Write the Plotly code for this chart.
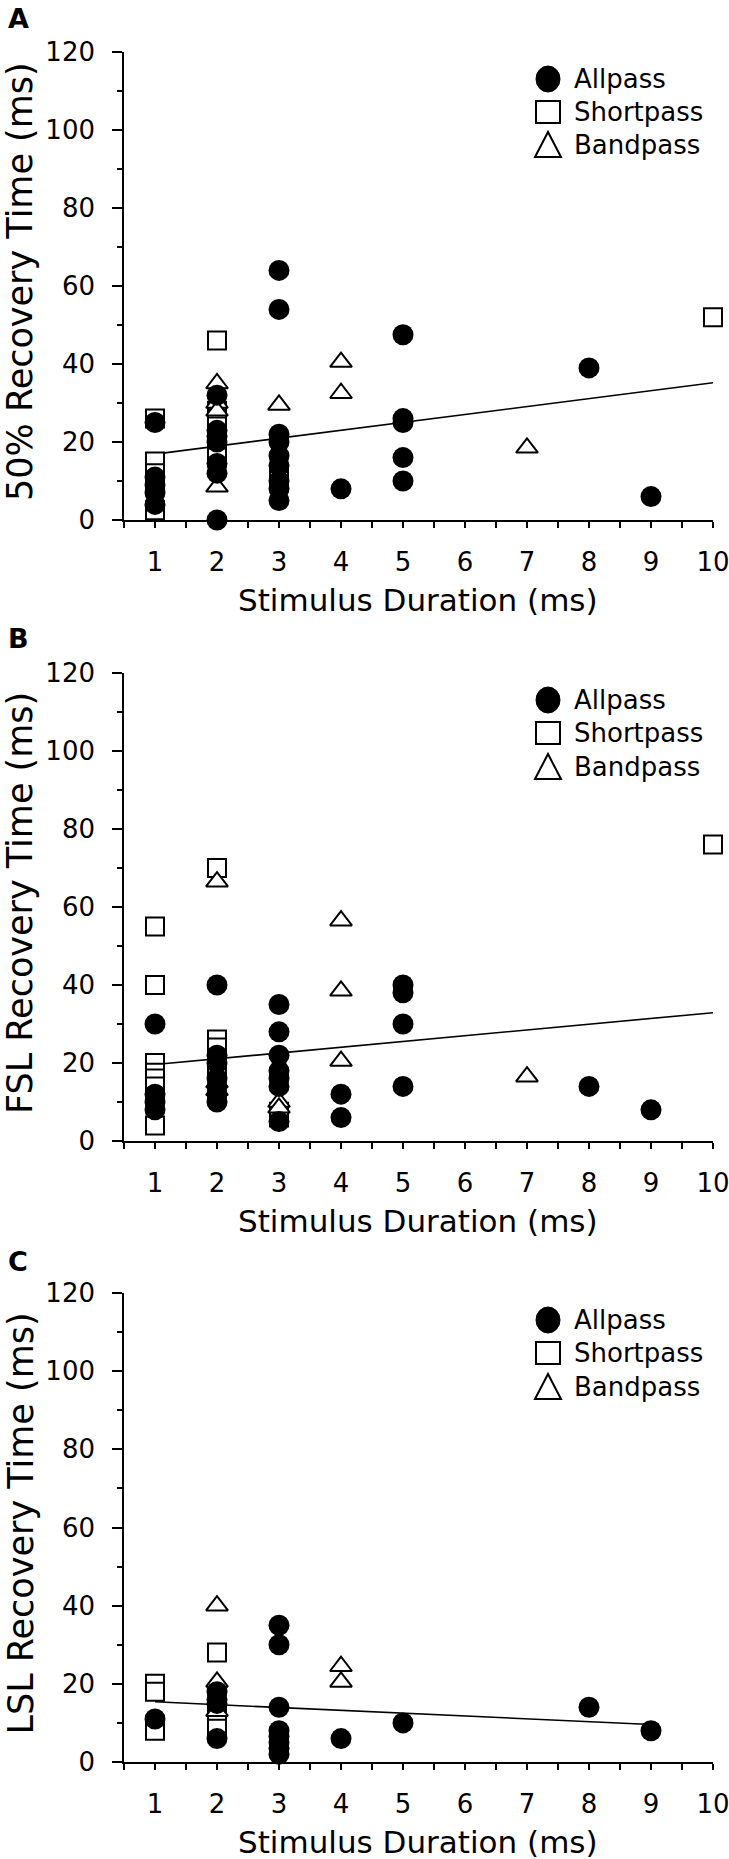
import plotly.graph_objects as go

# ---------------- data ----------------
# Panel A: 50% Recovery Time
a_all_dur = [1, 1, 1, 1, 1, 2, 2, 2, 2, 2, 2, 2, 3, 3, 3, 3, 3, 3, 3, 3, 3, 4, 5, 5, 5, 5, 5, 8, 9]
a_all_ms = [25, 11, 9, 7, 4, 32, 23, 21.5, 20, 14.5, 12, 0, 64, 54, 22, 20, 16.5, 14, 10, 8, 5, 8, 47.5, 26, 25, 16, 10, 39, 6]
a_short_dur = [1, 1, 1, 1, 1, 2, 2, 2, 2, 2, 2, 3, 3, 10]
a_short_ms = [26, 15, 12, 10, 2.5, 46, 28, 26, 24, 18, 16, 12, 10, 52]
a_band_dur = [2, 2, 2, 2, 3, 4, 4, 7]
a_band_ms = [35, 30, 28, 8.5, 29.5, 40.5, 32.5, 18.5]
a_fit_dur = [1, 10]
a_fit_ms = [16.9, 35.2]

# Panel B: FSL Recovery Time
b_all_dur = [1, 1, 1, 1, 2, 2, 2, 2, 2, 2, 2, 3, 3, 3, 3, 3, 3, 3, 4, 4, 5, 5, 5, 5, 8, 9]
b_all_ms = [30, 12, 10, 8, 40, 22, 20, 16, 14, 12, 10, 35, 28, 22, 18, 16, 14, 5, 12, 6, 40, 38, 30, 14, 14, 8]
b_short_dur = [1, 1, 1, 1, 1, 1, 1, 2, 2, 2, 2, 2, 3, 3, 10]
b_short_ms = [55, 40, 20, 17.5, 16, 14, 4, 70, 26, 24, 21, 18, 7.5, 6, 76]
b_band_dur = [2, 2, 2, 3, 3, 4, 4, 4, 7]
b_band_ms = [66.5, 15, 13, 10, 8.5, 56.5, 38.5, 20.5, 16.5]
b_fit_dur = [1, 10]
b_fit_ms = [19.6, 32.9]

# Panel C: LSL Recovery Time
c_all_dur = [1, 2, 2, 2, 2, 3, 3, 3, 3, 3, 3, 3, 3, 4, 5, 8, 9]
c_all_ms = [11, 18, 16, 15, 6, 35, 30, 14, 8, 6.5, 5, 3.5, 2, 6, 10, 14, 8]
c_short_dur = [1, 1, 1, 1, 2, 2, 2, 2]
c_short_ms = [20, 18, 9.5, 8, 28, 14, 11, 8.5]
c_band_dur = [2, 2, 2, 4, 4]
c_band_ms = [40, 20.5, 13, 24.5, 20.5]
c_fit_dur = [1, 9]
c_fit_ms = [15.4, 9.6]

panel_letters = ["A", "B", "C"]
y_titles = ["50% Recovery Time (ms)", "FSL Recovery Time (ms)", "LSL Recovery Time (ms)"]
x_title = "Stimulus Duration (ms)"
legend_names = ["Allpass", "Shortpass", "Bandpass"]
x_ticks = [1, 2, 3, 4, 5, 6, 7, 8, 9, 10]
y_ticks = [0, 20, 40, 60, 80, 100, 120]

panels = [
    (a_all_dur, a_all_ms, a_short_dur, a_short_ms, a_band_dur, a_band_ms, a_fit_dur, a_fit_ms),
    (b_all_dur, b_all_ms, b_short_dur, b_short_ms, b_band_dur, b_band_ms, b_fit_dur, b_fit_ms),
    (c_all_dur, c_all_ms, c_short_dur, c_short_ms, c_band_dur, c_band_ms, c_fit_dur, c_fit_ms),
]

# ---------------- layout geometry (pixels) ----------------
W, H = 729, 1859
x_left, x_right = 124, 713
panel_px = [(52, 520), (673, 1141), (1293, 1762)]  # (top, bottom) of plotting area
legend_rows = [(79, 112, 145), (700, 733, 767), (1320, 1353, 1387)]
letter_y = [18, 638, 1261]

FONT = "DejaVu Sans, Verdana, sans-serif"


def px(xp):
    return xp / W


def py(yp):
    return 1 - yp / H


fig = go.Figure()
shapes = []
annotations = []

for i, (ad, am, sd, sm, bd, bm, fd, fm) in enumerate(panels):
    n = "" if i == 0 else str(i + 1)
    xa, ya = "x" + n, "y" + n
    top, bot = panel_px[i]
    # fit line
    fig.add_trace(go.Scatter(x=fd, y=fm, mode="lines", line=dict(color="black", width=1.6),
                             xaxis=xa, yaxis=ya, showlegend=False, hoverinfo="skip"))
    fig.add_trace(go.Scatter(x=sd, y=sm, mode="markers", name="Shortpass", xaxis=xa, yaxis=ya,
                             showlegend=False, cliponaxis=False,
                             marker=dict(symbol="square", size=18, color="white",
                                         line=dict(color="black", width=2))))
    fig.add_trace(go.Scatter(x=bd, y=bm, mode="markers", name="Bandpass", xaxis=xa, yaxis=ya,
                             showlegend=False, cliponaxis=False,
                             marker=dict(symbol="triangle-up", size=19, color="white",
                                         line=dict(color="black", width=2))))
    fig.add_trace(go.Scatter(x=ad, y=am, mode="markers", name="Allpass", xaxis=xa, yaxis=ya,
                             showlegend=False, cliponaxis=False,
                             marker=dict(symbol="circle", size=21, color="black",
                                         line=dict(color="black", width=0))))

    dom_y = [py(bot), py(top)]
    fig.update_layout(**{
        "xaxis" + n: dict(domain=[px(x_left), px(x_right)], range=[0.5, 10], anchor=ya,
                          automargin=False,
                          showline=True, linecolor="black", linewidth=1.6, showgrid=False,
                          zeroline=False, tickmode="array", tickvals=x_ticks,
                          ticks="outside", ticklen=6, tickwidth=1.5, tickcolor="black",
                          ticklabelstandoff=12, ticklabeloverflow="allow",
                          minor=dict(ticks="outside", ticklen=6, tickwidth=1.5,
                                     tickcolor="black", tick0=0.5, dtick=0.5),
                          tickfont=dict(family=FONT, size=26, color="black")),
        "yaxis" + n: dict(domain=dom_y, range=[0, 120], anchor=xa,
                          automargin=False,
                          showline=True, linecolor="black", linewidth=1.6, showgrid=False,
                          zeroline=False, tickmode="array", tickvals=y_ticks,
                          ticks="outside", ticklen=10, tickwidth=1.5, tickcolor="black",
                          ticklabelstandoff=12, ticklabeloverflow="allow",
                          minor=dict(ticks="outside", ticklen=5, tickwidth=1.5,
                                     tickcolor="black", tick0=0, dtick=10),
                          tickfont=dict(family=FONT, size=26, color="black")),
    })

    # axis titles
    annotations.append(dict(text=y_titles[i], xref="paper", yref="paper", x=px(20),
                            y=py((top + bot) / 2 - 4), xanchor="center", yanchor="middle",
                            textangle=-90, showarrow=False,
                            font=dict(family=FONT, size=35, color="black")))
    annotations.append(dict(text=x_title, xref="paper", yref="paper", x=px(418),
                            y=py(bot + 80), xanchor="center", yanchor="middle",
                            showarrow=False, font=dict(family=FONT, size=31, color="black")))
    # panel letter
    annotations.append(dict(text="<b>%s</b>" % panel_letters[i], xref="paper", yref="paper",
                            x=px(6), y=py(letter_y[i]), xanchor="left", yanchor="middle",
                            showarrow=False, font=dict(family=FONT, size=27, color="black")))

    # legend (symbols + labels)
    r1, r2, r3 = legend_rows[i]
    cx = 548
    shapes.append(dict(type="circle", xref="paper", yref="paper",
                       x0=px(cx - 12), x1=px(cx + 12), y0=py(r1 + 13), y1=py(r1 - 13),
                       fillcolor="black", line=dict(color="black", width=1)))
    shapes.append(dict(type="rect", xref="paper", yref="paper",
                       x0=px(cx - 12), x1=px(cx + 12), y0=py(r2 + 11), y1=py(r2 - 11),
                       fillcolor="white", line=dict(color="black", width=2)))
    tri = "M %f %f L %f %f L %f %f Z" % (px(cx), py(r3 - 13), px(cx - 13), py(r3 + 12),
                                         px(cx + 13), py(r3 + 12))
    shapes.append(dict(type="path", xref="paper", yref="paper", path=tri,
                       fillcolor="white", line=dict(color="black", width=2)))
    for name, r in zip(legend_names, (r1, r2, r3)):
        annotations.append(dict(text=name, xref="paper", yref="paper", x=px(572), y=py(r),
                                xanchor="left", yanchor="middle", showarrow=False,
                                font=dict(family=FONT, size=26, color="black")))

fig.update_layout(width=W, height=H, margin=dict(l=0, r=0, t=0, b=0, autoexpand=False),
                  paper_bgcolor="white", plot_bgcolor="white",
                  shapes=shapes, annotations=annotations, showlegend=False)

fig.write_html(
    "out.html", config={"displayModeBar": False},
    post_script=("document.body.style.margin='0px';"
                 "document.body.style.overflow='hidden';"
                 "document.documentElement.style.overflow='hidden';"))
